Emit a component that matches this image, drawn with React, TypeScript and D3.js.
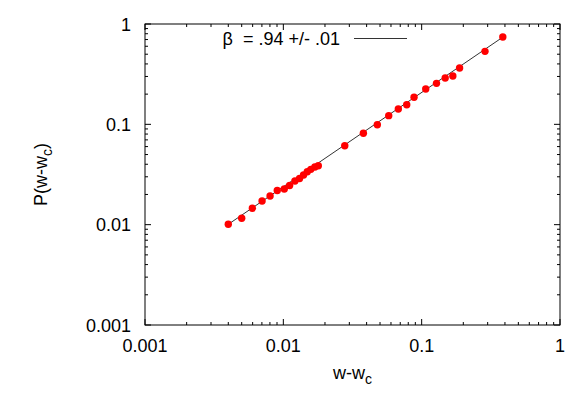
import React from "react";
import * as d3 from "d3";

const xValues = [0.0040, 0.0050, 0.00597, 0.00702, 0.00802, 0.00904, 0.01016, 0.0111, 0.01213, 0.0131, 0.0140, 0.0149, 0.0158, 0.0169, 0.0179,
  0.0278, 0.0379, 0.0478, 0.0578, 0.0678, 0.0780, 0.0881, 0.107, 0.128, 0.148, 0.168, 0.188, 0.287, 0.386];
const yValues = [0.0101, 0.01157, 0.01456, 0.0172, 0.0193, 0.0219, 0.0227, 0.0246, 0.0272, 0.0288, 0.0313, 0.0337, 0.0356, 0.0376, 0.0387,
  0.0612, 0.0814, 0.0992, 0.122, 0.142, 0.157, 0.186, 0.225, 0.256, 0.290, 0.303, 0.364, 0.534, 0.742];
const fitBeta = 0.94;
const fitAmp = 1.81;
const fitRange = [0.004, 0.386];
const xTickLabels = ["0.001", "0.01", "0.1", "1"];
const yTickLabels = ["0.001", "0.01", "0.1", "1"];
const legendText = "β  = .94 +/- .01";

const W = 581, H = 407;
const L = 145, R = 560, T = 24, B = 325;
const FONT = "'Liberation Sans', Arial, Helvetica, sans-serif";

export default function App() {
  const x = d3.scaleLog().domain([0.001, 1]).range([L, R]);
  const y = d3.scaleLog().domain([0.001, 1]).range([B, T]);
  const decades = [0.001, 0.01, 0.1, 1];
  const minors: number[] = [];
  for (const d of [0.001, 0.01, 0.1]) for (let k = 2; k <= 9; k++) minors.push(d * k);

  const fitPts: [number, number][] = [fitRange[0], fitRange[1]].map((v) => [v, fitAmp * Math.pow(v, fitBeta)]);
  const line = d3.line<[number, number]>().x((d) => x(d[0])).y((d) => y(d[1]));

  return (
    <svg width={W} height={H} style={{ position: "absolute", left: 0, top: 0, background: "#fff" }} fontFamily={FONT}>
      <rect x={0} y={0} width={W} height={H} fill="#fff" />
      {/* ticks */}
      <g stroke="#000" strokeWidth={1}>
        {decades.map((d, i) => (
          <g key={"mx" + i}>
            <line x1={x(d)} x2={x(d)} y1={B} y2={B - 6} />
            <line x1={x(d)} x2={x(d)} y1={T} y2={T + 6} />
            <line x1={L} x2={L + 6} y1={y(d)} y2={y(d)} />
            <line x1={R} x2={R - 6} y1={y(d)} y2={y(d)} />
          </g>
        ))}
        {minors.map((d, i) => (
          <g key={"mn" + i}>
            <line x1={x(d)} x2={x(d)} y1={B} y2={B - 3} />
            <line x1={x(d)} x2={x(d)} y1={T} y2={T + 3} />
            <line x1={L} x2={L + 3} y1={y(d)} y2={y(d)} />
            <line x1={R} x2={R - 3} y1={y(d)} y2={y(d)} />
          </g>
        ))}
      </g>
      <rect x={L} y={T} width={R - L} height={B - T} fill="none" stroke="#000" strokeWidth={1} />
      {/* tick labels */}
      {decades.map((d, i) => (
        <text key={"xl" + i} x={x(d)} y={352} fontSize={18} textAnchor="middle" fill="#000">
          {xTickLabels[i]}
        </text>
      ))}
      {decades.map((d, i) => (
        <text key={"yl" + i} x={131} y={y(d) + 6.5} fontSize={18} textAnchor="end" fill="#000">
          {yTickLabels[i]}
        </text>
      ))}
      {/* axis titles */}
      <text x={(L + R) / 2} y={379} fontSize={18} textAnchor="middle" fill="#000">
        w-w<tspan fontSize={14} dy={5}>c</tspan>
      </text>
      <text transform={`translate(47,${(T + B) / 2}) rotate(-90)`} fontSize={18} textAnchor="middle" fill="#000">
        P(w-w<tspan fontSize={14} dy={5}>c</tspan>
        <tspan dy={-5}>)</tspan>
      </text>
      {/* legend */}
      <text x={340} y={45} fontSize={18} textAnchor="end" fill="#000" style={{ whiteSpace: "pre" }}>
        {legendText}
      </text>
      <line x1={354} x2={407} y1={38.5} y2={38.5} stroke="#333" strokeWidth={1} />
      {/* fit line */}
      <path d={line(fitPts) || ""} fill="none" stroke="#333" strokeWidth={1} />
      {/* points */}
      {xValues.map((v, i) => (
        <circle key={"p" + i} cx={x(v)} cy={y(yValues[i])} r={3.7} fill="#f00" />
      ))}
    </svg>
  );
}
